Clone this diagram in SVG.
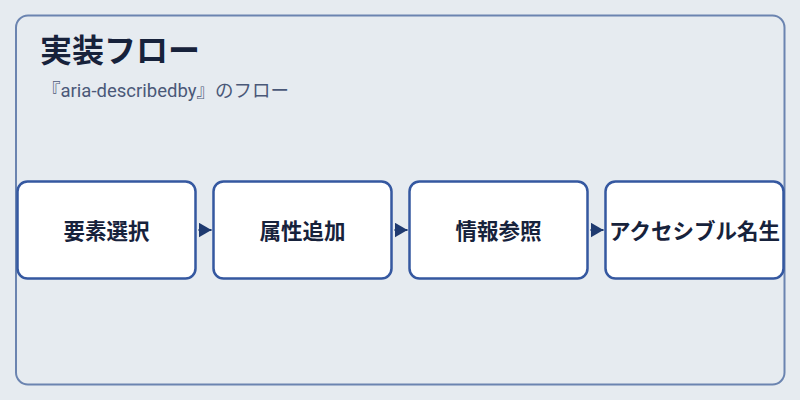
<svg xmlns="http://www.w3.org/2000/svg" width="800" height="400" viewBox="0 0 800 400">
<defs>
<style>
.node rect{fill:#ffffff;stroke:#3558a0;stroke-width:2.5}
.node text{font-family:"Noto Sans CJK JP","Noto Sans",sans-serif;font-size:21.5px;font-weight:700;fill:#17223b;text-anchor:middle}
.title{font-family:"Noto Sans CJK JP","Noto Sans",sans-serif;font-size:32px;font-weight:700;fill:#17223b}
.sub{font-family:Roboto,"Noto Sans CJK JP",sans-serif;font-size:18.5px;fill:#4a5878}
.conn line{stroke:#1f3a70;stroke-width:2;marker-end:url(#ah)}
</style>
<marker id="ah" viewBox="0 0 13 15" refX="13" refY="7.5" markerWidth="13" markerHeight="15" markerUnits="userSpaceOnUse" orient="auto">
<path d="M0,0 L13,7.5 L0,15 Z" fill="#1f3a70"/>
</marker>
</defs>
<rect x="0" y="0" width="800" height="400" fill="#e6ebf0"/>
<rect id="frame" x="16" y="15.5" width="768.5" height="369" rx="12" fill="#e6ebf0" stroke="#6b84b0" stroke-width="2"/>
<text class="title" x="40" y="62">実装フロー</text>
<text class="sub" x="42" y="97">『aria-describedby』のフロー</text>
<g id="connectors" class="conn">
<line x1="198.5" y1="230" x2="211.5" y2="230"/>
<line x1="394.5" y1="230" x2="407.5" y2="230"/>
<line x1="590.5" y1="230" x2="603.5" y2="230"/>
</g>
<g id="node1" class="node"><rect x="17.5" y="181.5" width="178" height="97" rx="10"/><text x="106.5" y="238.5">要素選択</text></g>
<g id="node2" class="node"><rect x="213.5" y="181.5" width="178" height="97" rx="10"/><text x="302.5" y="238.5">属性追加</text></g>
<g id="node3" class="node"><rect x="409.5" y="181.5" width="178" height="97" rx="10"/><text x="498.5" y="238.5">情報参照</text></g>
<g id="node4" class="node"><rect x="605.5" y="181.5" width="178" height="97" rx="10"/><text x="694.5" y="238.5">アクセシブル名生</text></g>
</svg>
